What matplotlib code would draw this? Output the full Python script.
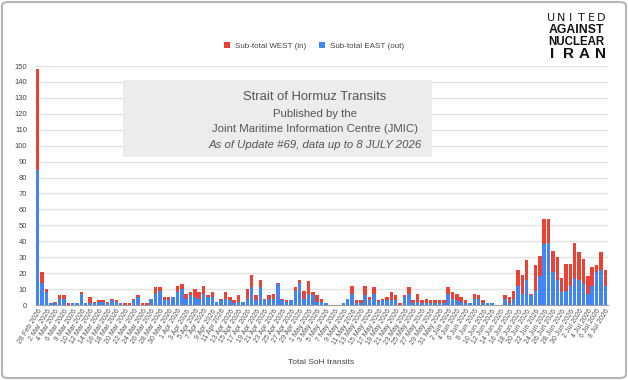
import numpy as np
import pandas as pd
import matplotlib
matplotlib.use("Agg")
import matplotlib.pyplot as plt
from matplotlib.patches import Rectangle, FancyBboxPatch

# daily transits, 28 Feb 2026 .. 8 Jul 2026
dates = pd.date_range("2026-02-28", "2026-07-08", freq="D")
east_out = [85, 14, 8, 1, 1, 4, 4, 0, 1, 1, 7, 1, 1, 1, 2, 2, 1, 3, 2, 1,
            0, 0, 3, 5, 0, 0, 4, 7, 9, 3, 3, 5, 8, 10, 4, 6, 5, 4, 7, 5,
            5, 2, 3, 4, 3, 1, 2, 2, 4, 11, 3, 11, 3, 4, 4, 13, 3, 2, 3, 9,
            14, 4, 7, 6, 2, 2, 1, 0, 0, 0, 1, 4, 7, 1, 1, 6, 3, 7, 2, 3,
            3, 3, 3, 0, 5, 7, 1, 2, 1, 1, 1, 1, 1, 1, 7, 4, 3, 2, 1, 1,
            4, 4, 1, 1, 1, 0, 0, 4, 1, 4, 12, 7, 16, 6, 9, 18, 38, 39, 21, 16,
            8, 9, 12, 17, 16, 13, 7, 12, 21, 22, 12]
total = [148, 21, 10, 1, 2, 6, 6, 1, 1, 1, 8, 1, 5, 2, 3, 3, 2, 4, 3, 1,
         1, 1, 4, 6, 1, 1, 4, 11, 11, 5, 5, 5, 12, 13, 7, 8, 10, 8, 12, 6,
         8, 2, 4, 8, 5, 3, 6, 2, 10, 19, 6, 16, 4, 6, 7, 14, 4, 3, 3, 11,
         16, 9, 15, 8, 6, 4, 1, 0, 0, 0, 1, 4, 12, 3, 3, 12, 5, 11, 3, 4,
         5, 8, 6, 1, 6, 11, 3, 7, 3, 4, 3, 3, 3, 3, 11, 8, 7, 5, 3, 1,
         7, 6, 3, 1, 1, 0, 0, 6, 5, 9, 22, 19, 28, 7, 25, 31, 54, 54, 34, 30,
         17, 26, 26, 39, 33, 29, 18, 24, 25, 33, 22]
west_in = [t - e for t, e in zip(total, east_out)]
labels = [f"{d.day} {d.strftime('%b %Y')}" for d in dates]

RED = "#ea4335"
BLUE = "#4285f4"

plt.rcParams["font.family"] = ["Liberation Sans", "DejaVu Sans"]

W, H = 628, 380
fig = plt.figure(figsize=(W / 100, H / 100), dpi=100)
ax = fig.add_axes([35.5 / W, 1 - 305 / H, 572 / W, 239 / H])

x = np.arange(len(dates))
ax.bar(x, east_out, width=0.8, color=BLUE, label="Sub-total EAST (out)", zorder=3)
ax.bar(x, west_in, bottom=east_out, width=0.8, color=RED, label="Sub-total WEST (in)", zorder=3)

ax.set_xlim(-0.5, len(dates) - 0.5)
ax.set_ylim(0, 150)
ax.set_yticks(range(0, 151, 10))
ax.grid(axis="y", color="#e3e3e3", lw=1, zorder=0)
for s in ["top", "right", "left"]:
    ax.spines[s].set_visible(False)
ax.spines["bottom"].set_color("#9e9e9e")
ax.tick_params(axis="y", length=0, labelsize=5.5, labelcolor="#444444", pad=6)
ax.tick_params(axis="x", length=0, labelsize=5, labelcolor="#555555", pad=2)
ax.set_xticks(x[::2])
ax.set_xticklabels(labels[::2], rotation=58, ha="right", rotation_mode="anchor")
ax.set_xlabel("Total SoH transits", fontsize=6, color="#444444", labelpad=9)

# legend (WEST first)
h, l = ax.get_legend_handles_labels()
fig.legend(h[::-1], l[::-1], loc="center", bbox_to_anchor=(314 / W, 1 - 46 / H), ncol=2,
           frameon=False, fontsize=5.8, handlelength=0.8, handleheight=0.8,
           columnspacing=1.5, handletextpad=0.6, labelcolor="#444444")

# title box
fig.patches.append(Rectangle((123 / W, 1 - 157 / H), 309 / W, 77 / H, transform=fig.transFigure,
                             facecolor="#ececec", edgecolor="none", zorder=5))
cx = 315 / W
fig.text(cx, 1 - 97 / H, "Strait of Hormuz Transits", ha="center", va="center", fontsize=9.4, color="#555555", zorder=6)
fig.text(cx, 1 - 114 / H, "Published by the", ha="center", va="center", fontsize=8.2, color="#555555", zorder=6)
fig.text(cx, 1 - 129 / H, "Joint Maritime Information Centre (JMIC)", ha="center", va="center", fontsize=8.2, color="#555555", zorder=6)
fig.text(cx, 1 - 145 / H, "As of Update #69, data up to 8 JULY 2026", ha="center", va="center", fontsize=8.2,
         color="#555555", style="italic", zorder=6)

# logo
for xx, ch in zip(np.linspace(551, 601, 6), "UNITED"):
    fig.text(xx / W, 1 - 18 / H, ch, ha="center", va="center", fontsize=8,
             color="#1a1a1a", family="DejaVu Sans")
fig.text(576 / W, 1 - 30 / H, "AGAINST", ha="center", va="center", fontsize=8.8, fontweight="bold", color="#111111")
fig.text(576 / W, 1 - 42 / H, "NUCLEAR", ha="center", va="center", fontsize=8.3, fontweight="bold", color="#111111")
for xx, ch in zip(np.linspace(552, 600, 4), "IRAN"):
    fig.text(xx / W, 1 - 54 / H, ch, ha="center", va="center", fontsize=11, fontweight="bold", color="#111111")

# outer frame
fig.patches.append(FancyBboxPatch((2 / W, 2 / H), 1 - 4 / W, 1 - 4 / H, boxstyle="round,pad=0,rounding_size=0.01",
                                  transform=fig.transFigure, facecolor="none", edgecolor="#b5b5b5", lw=1.5))

fig.savefig("out.png", dpi=100)
